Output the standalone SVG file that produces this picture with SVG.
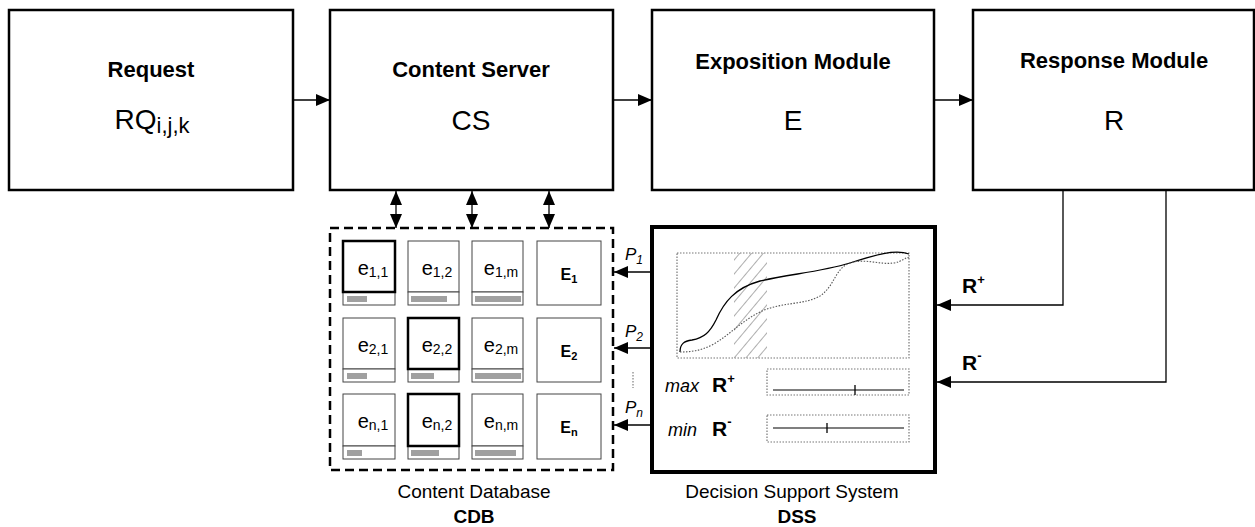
<svg xmlns="http://www.w3.org/2000/svg" width="1255" height="527" viewBox="0 0 1255 527">
<style>
.box{fill:#fff;stroke:#000;stroke-width:2.5}
.title{font-family:"Liberation Sans",Arial,sans-serif;font-weight:bold;font-size:22px;text-anchor:middle;fill:#000}
.sym{font-family:"Liberation Sans",Arial,sans-serif;font-size:28px;text-anchor:middle;fill:#000}
.cell{fill:#fff;stroke:#444;stroke-width:1}
.cellb{fill:#fff;stroke:#000;stroke-width:2.5}
.bar{fill:#a0a0a0}
.ct{font-family:"Liberation Sans",Arial,sans-serif;font-size:20px;text-anchor:middle;fill:#000}
.Et{font-family:"Liberation Sans",Arial,sans-serif;font-size:16px;font-weight:bold;text-anchor:middle;fill:#000}
.conn{stroke:#000;stroke-width:1.3;fill:none}
.pl{font-family:"Liberation Sans",Arial,sans-serif;font-style:italic;font-size:17px;fill:#000}
.lab{font-family:"Liberation Sans",Arial,sans-serif;font-size:19px;text-anchor:middle;fill:#000}
.labb{font-family:"Liberation Sans",Arial,sans-serif;font-size:19px;font-weight:bold;text-anchor:middle;fill:#000}
.it{font-family:"Liberation Sans",Arial,sans-serif;font-style:italic;font-size:18px;fill:#000}
.rb{font-family:"Liberation Sans",Arial,sans-serif;font-weight:bold;font-size:21px;fill:#000}
.dot{fill:none;stroke:#777;stroke-width:1.2;stroke-dasharray:1.5,1.5}
</style>
<defs>
<marker id="ah" markerUnits="userSpaceOnUse" markerWidth="14" markerHeight="12" refX="14" refY="6" orient="auto-start-reverse">
<path d="M0,0 L14,6 L0,12 z" fill="#000"/>
</marker>
<pattern id="hatch" patternUnits="userSpaceOnUse" width="9" height="9" patternTransform="rotate(40)">
<line x1="0" y1="0" x2="0" y2="9" stroke="#999" stroke-width="1.6"/>
</pattern>
</defs>
<rect width="1255" height="527" fill="#fff"/>

<g id="request">
<rect class="box" x="9" y="10" width="284" height="180"/>
<text class="title" x="151" y="77">Request</text>
<text class="sym" x="152" y="129">RQ<tspan font-size="22px" dy="4">i,j,k</tspan></text>
</g>
<g id="content-server">
<rect class="box" x="330" y="10" width="283" height="180"/>
<text class="title" x="471" y="77">Content Server</text>
<text class="sym" x="471" y="130">CS</text>
</g>
<g id="exposition-module">
<rect class="box" x="652" y="10" width="282" height="180"/>
<text class="title" x="793" y="69">Exposition Module</text>
<text class="sym" x="793" y="130">E</text>
</g>
<g id="response-module">
<rect class="box" x="973" y="10" width="281" height="180"/>
<text class="title" x="1114" y="68">Response Module</text>
<text class="sym" x="1114" y="130">R</text>
</g>

<g id="content-database">
<rect x="330" y="228" width="283" height="242" fill="none" stroke="#000" stroke-width="2.5" stroke-dasharray="9,5"/>
<!-- row 1 -->
<g id="e11"><rect class="cell" x="343" y="292" width="52" height="13"/><rect class="bar" x="347" y="296" width="20" height="6"/><rect class="cellb" x="343" y="241" width="52" height="51"/><text class="ct" x="373" y="275">e<tspan font-size="14px" dy="2">1,1</tspan></text></g>
<g id="e12"><rect class="cell" x="408" y="241" width="51" height="51"/><rect class="cell" x="408" y="292" width="51" height="13"/><rect class="bar" x="411" y="296" width="36" height="6"/><text class="ct" x="437" y="275">e<tspan font-size="14px" dy="2">1,2</tspan></text></g>
<g id="e1m"><rect class="cell" x="472" y="241" width="51" height="51"/><rect class="cell" x="472" y="292" width="51" height="13"/><rect class="bar" x="475" y="296" width="46" height="6"/><text class="ct" x="501" y="275">e<tspan font-size="14px" dy="2">1,m</tspan></text></g>
<g id="E1"><rect class="cell" x="537" y="241" width="64" height="64"/><text class="Et" x="569" y="280">E<tspan font-size="11px" dy="3">1</tspan></text></g>
<!-- row 2 -->
<g id="e21"><rect class="cell" x="343" y="318" width="52" height="51"/><rect class="cell" x="343" y="369" width="52" height="13"/><rect class="bar" x="347" y="373" width="20" height="6"/><text class="ct" x="373" y="352">e<tspan font-size="14px" dy="2">2,1</tspan></text></g>
<g id="e22"><rect class="cell" x="408" y="369" width="51" height="13"/><rect class="bar" x="411" y="373" width="23" height="6"/><rect class="cellb" x="408" y="318" width="51" height="51"/><text class="ct" x="437" y="352">e<tspan font-size="14px" dy="2">2,2</tspan></text></g>
<g id="e2m"><rect class="cell" x="472" y="318" width="51" height="51"/><rect class="cell" x="472" y="369" width="51" height="13"/><rect class="bar" x="475" y="373" width="46" height="6"/><text class="ct" x="501" y="352">e<tspan font-size="14px" dy="2">2,m</tspan></text></g>
<g id="E2"><rect class="cell" x="537" y="318" width="64" height="64"/><text class="Et" x="569" y="357">E<tspan font-size="11px" dy="3">2</tspan></text></g>
<!-- row n -->
<g id="en1"><rect class="cell" x="343" y="394" width="52" height="52"/><rect class="cell" x="343" y="446" width="52" height="13"/><rect class="bar" x="347" y="450" width="15" height="6"/><text class="ct" x="373" y="428">e<tspan font-size="14px" dy="2">n,1</tspan></text></g>
<g id="en2"><rect class="cell" x="408" y="446" width="51" height="13"/><rect class="bar" x="411" y="450" width="28" height="6"/><rect class="cellb" x="408" y="394" width="51" height="52"/><text class="ct" x="437" y="428">e<tspan font-size="14px" dy="2">n,2</tspan></text></g>
<g id="enm"><rect class="cell" x="472" y="394" width="51" height="52"/><rect class="cell" x="472" y="446" width="51" height="13"/><rect class="bar" x="475" y="450" width="41" height="6"/><text class="ct" x="501" y="428">e<tspan font-size="14px" dy="2">n,m</tspan></text></g>
<g id="En"><rect class="cell" x="537" y="394" width="64" height="65"/><text class="Et" x="569" y="433">E<tspan font-size="11px" dy="3">n</tspan></text></g>
<text class="lab" x="474" y="498">Content Database</text>
<text class="labb" x="474" y="523">CDB</text>
</g>

<g id="dss">
<rect x="652" y="227" width="283" height="245" fill="#fff" stroke="#000" stroke-width="4"/>
<rect x="677" y="253" width="232" height="105" fill="none" stroke="#777" stroke-width="1.2" stroke-dasharray="1.5,1.5"/>
<rect x="734" y="253" width="33" height="105" fill="url(#hatch)"/>
<path d="M680,352 C680,344 684,341 692,340 C704,338 710,332 716,320 C724,302 735,288 760,281 C790,274 820,272 850,263 C875,255 895,249 909,254" fill="none" stroke="#000" stroke-width="1.3"/>
<path d="M680,352 C690,352 700,351 712,345 C730,335 740,322 760,312 C780,302 805,305 820,296 C835,286 835,268 850,263 C865,258 880,265 893,263 C903,262 906,256 909,258" fill="none" stroke="#555" stroke-width="1.1" stroke-dasharray="1.5,1.5"/>
<rect class="dot" x="767" y="369" width="142" height="26"/>
<line x1="773" y1="390" x2="904" y2="390" stroke="#808080" stroke-width="2"/>
<line x1="855" y1="385" x2="855" y2="395" stroke="#000" stroke-width="1.3"/>
<rect class="dot" x="767" y="415" width="142" height="27"/>
<line x1="773" y1="428" x2="904" y2="428" stroke="#000" stroke-width="1.2"/>
<line x1="827" y1="423" x2="827" y2="433" stroke="#000" stroke-width="1.3"/>
<text class="it" x="665" y="392">max</text>
<text class="rb" x="712" y="392">R<tspan font-size="13px" dy="-9">+</tspan></text>
<text class="it" x="668" y="436">min</text>
<text class="rb" x="712" y="436">R<tspan font-size="13px" dy="-10">-</tspan></text>
<text class="lab" x="792" y="498">Decision Support System</text>
<text class="labb" x="797" y="523">DSS</text>
</g>

<g id="connectors">
<line class="conn" x1="293" y1="100" x2="330" y2="100" marker-end="url(#ah)"/>
<line class="conn" x1="613" y1="100" x2="652" y2="100" marker-end="url(#ah)"/>
<line class="conn" x1="934" y1="100" x2="973" y2="100" marker-end="url(#ah)"/>
<line class="conn" x1="396" y1="191" x2="396" y2="228" marker-start="url(#ah)" marker-end="url(#ah)"/>
<line class="conn" x1="472" y1="191" x2="472" y2="228" marker-start="url(#ah)" marker-end="url(#ah)"/>
<line class="conn" x1="549" y1="191" x2="549" y2="228" marker-start="url(#ah)" marker-end="url(#ah)"/>
<line class="conn" x1="650" y1="272" x2="614" y2="272" marker-end="url(#ah)"/>
<line class="conn" x1="650" y1="348" x2="614" y2="348" marker-end="url(#ah)"/>
<line class="conn" x1="650" y1="425" x2="614" y2="425" marker-end="url(#ah)"/>
<line x1="633" y1="372" x2="633" y2="388" stroke="#999" stroke-width="1.5" stroke-dasharray="1.5,1.5"/>
<text class="pl" x="625" y="260">P<tspan font-size="12px" dy="4">1</tspan></text>
<text class="pl" x="625" y="337">P<tspan font-size="12px" dy="4">2</tspan></text>
<text class="pl" x="625" y="413">P<tspan font-size="12px" dy="4">n</tspan></text>
<polyline class="conn" points="1063,190 1063,305 937,305" marker-end="url(#ah)"/>
<polyline class="conn" points="1166,190 1166,382 937,382" marker-end="url(#ah)"/>
<text class="rb" x="962" y="293">R<tspan font-size="13px" dy="-9">+</tspan></text>
<text class="rb" x="962" y="370">R<tspan font-size="13px" dy="-10">-</tspan></text>
</g>
</svg>
